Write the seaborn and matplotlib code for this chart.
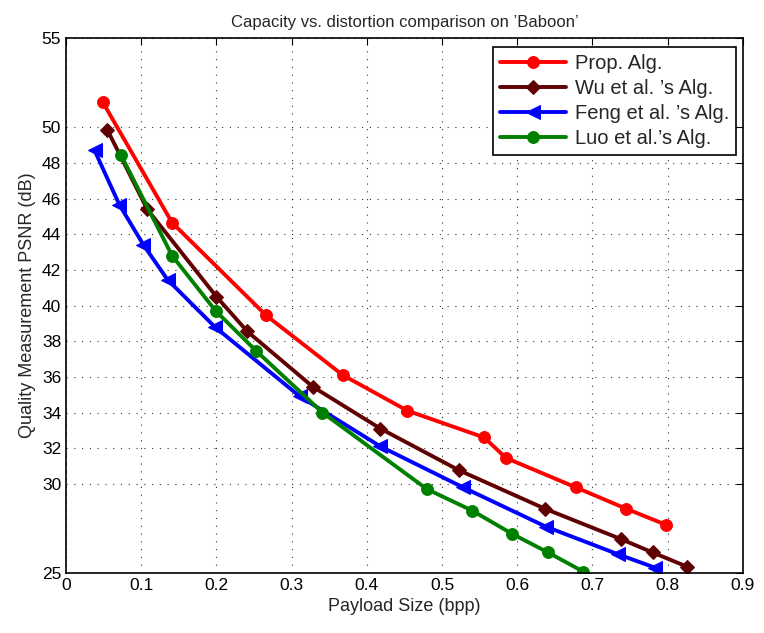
import matplotlib
matplotlib.use("Agg")
import matplotlib.pyplot as plt
import numpy as np
import pandas as pd
import seaborn as sns

# Payload (bpp) and PSNR (dB)
prop_x = [0.049, 0.141, 0.266, 0.368, 0.454, 0.556, 0.585, 0.678, 0.745, 0.798]
prop_y = [51.4, 44.65, 39.45, 36.1, 34.1, 32.6, 31.45, 29.8, 28.6, 27.7]

wu_x = [0.055, 0.108, 0.200, 0.241, 0.328, 0.418, 0.523, 0.637, 0.738, 0.780, 0.826]
wu_y = [49.85, 45.4, 40.5, 38.55, 35.45, 33.1, 30.75, 28.6, 26.9, 26.15, 25.35]

feng_x = [0.038, 0.071, 0.103, 0.135, 0.198, 0.311, 0.418, 0.528, 0.638, 0.734, 0.783]
feng_y = [48.7, 45.65, 43.4, 41.45, 38.8, 34.9, 32.1, 29.8, 27.6, 26.05, 25.3]

luo_x = [0.073, 0.141, 0.199, 0.253, 0.341, 0.480, 0.540, 0.593, 0.641, 0.688]
luo_y = [48.45, 42.8, 39.7, 37.45, 34.0, 29.7, 28.5, 27.2, 26.15, 25.07]

labels = ["Prop. Alg.", "Wu et al. \u2019s Alg.", "Feng et al. \u2019s Alg.", "Luo et al.\u2019s Alg."]
colors = ["#ff0000", "#600000", "#0000ff", "#008000"]
markers = ["o", "D", "<", "o"]
marker_sizes = [8.5, 7.5, 10, 8.5]

x_ticks = [0, 0.1, 0.2, 0.3, 0.4, 0.5, 0.6, 0.7, 0.8, 0.9]
y_ticks = [25, 30, 32, 34, 36, 38, 40, 42, 44, 46, 48, 50, 55]

series = [(prop_x, prop_y), (wu_x, wu_y), (feng_x, feng_y), (luo_x, luo_y)]

sns.set_style("white")
plt.rcParams["font.family"] = ["Liberation Sans", "DejaVu Sans"]
plt.rcParams["xtick.direction"] = "in"
plt.rcParams["ytick.direction"] = "in"

fig = plt.figure(figsize=(7.64, 6.33), dpi=100)
ax = fig.add_axes([0.0864, 0.0948, 0.886, 0.845])

for (xs, ys), label, color, marker, ms in zip(series, labels, colors, markers, marker_sizes):
    df = pd.DataFrame({"bpp": xs, "psnr": ys})
    sns.lineplot(data=df, x="bpp", y="psnr", ax=ax, sort=False, color=color,
                 linewidth=2.8, marker=marker, markersize=ms, markeredgecolor=color,
                 markerfacecolor=color, label=label)

ax.set_xlim(0, 0.9)
ax.set_ylim(25, 55)
ax.set_xticks(x_ticks)
ax.set_xticklabels(["0"] + [f"{t:g}" for t in x_ticks[1:]])
ax.set_yticks(y_ticks)
ax.tick_params(labelsize=12.5, length=5, width=0.8, top=True, right=True, colors="black")
ax.grid(True, linestyle=(0, (1, 6)), color="black", linewidth=0.8, alpha=0.8)

for s in ax.spines.values():
    s.set_color("black")
    s.set_linewidth(1.2)

ax.set_xlabel("Payload Size (bpp)", fontsize=13)
ax.set_ylabel("Quality Measurement PSNR (dB)", fontsize=13)
ax.set_title("Capacity vs. distortion comparison on \u2019Baboon\u2019", fontsize=12, pad=8)

leg = ax.legend(loc="upper right", fontsize=14.5, frameon=True, fancybox=False,
                edgecolor="black", framealpha=1, borderpad=0.35, labelspacing=0.3,
                handlelength=3.3, handletextpad=0.4, borderaxespad=0,
                bbox_to_anchor=(0.9897, 0.983))
leg.get_frame().set_linewidth(1.2)

fig.savefig("out.png", dpi=100)
